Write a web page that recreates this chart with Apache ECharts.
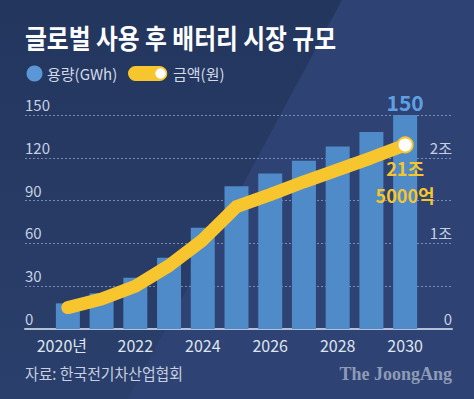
<!DOCTYPE html>
<html><head><meta charset="utf-8">
<script src="https://cdn.jsdelivr.net/npm/echarts@6/dist/echarts.min.js"></script>
<style>html,body{margin:0;padding:0;background:#2e4373;}#c{width:474px;height:399px;}</style>
</head><body><div id="c"></div>
<script>
const years = ['2020','2021','2022','2023','2024','2025','2026','2027','2028','2029','2030'];
const capacityGWh = [18, 25, 36, 50, 71, 100, 109, 118, 128, 138, 150];
const amountJo = [0.25, 0.35, 0.5, 0.74, 1.04, 1.43, 1.57, 1.72, 1.86, 2.0, 2.15];
const firstYearLabel = '2020년';
const endAmountLabel = '21조\n5000억';
const titleText = '글로벌 사용 후 배터리 시장 규모';
const legendBar = '용량(GWh)';
const legendLine = '금액(원)';
const sourceText = '자료: 한국전기차산업협회';
const brandText = 'The JoongAng';

const FONT = '"Noto Sans CJK KR", "Noto Sans", sans-serif';
const YELLOW = '#f7c62f';
const BLUE = '#4f8ac9';

const chart = echarts.init(document.getElementById('c'), null, {renderer: 'svg'});
const last = years.length - 1;

chart.setOption({
  backgroundColor: '#2e4373',
  animation: false,
  textStyle: {fontFamily: FONT},
  grid: [
    {left: 25, right: 22, top: 115, bottom: 70},
    {left: 51, right: 52, top: 115, bottom: 70}
  ],
  xAxis: [
    {gridIndex: 0, type: 'value', min: 0, max: 1,
     axisLine: {show: true, lineStyle: {color: '#b4c0d8', width: 2}},
     axisTick: {show: false}, axisLabel: {show: false}, splitLine: {show: false}},
    {gridIndex: 1, type: 'category', data: years, boundaryGap: true,
     axisLine: {show: false},
     axisTick: {show: true, inside: true, length: 5, alignWithLabel: true,
       interval: (i) => i % 2 === 0, lineStyle: {color: '#c9d3e6', width: 1}},
     axisLabel: {interval: (i) => i % 2 === 0, color: '#dfe5f0', fontSize: 16, fontWeight: 'normal', margin: 8,
       fontFamily: FONT,
       formatter: (v, i) => i === 0 ? '{a|' + firstYearLabel + '}' : v,
       rich: {a: {fontSize: 16, fontWeight: 'normal', color: '#dfe5f0', fontFamily: FONT, padding: [0, 12, 0, 0]}}}}
  ],
  yAxis: [
    {gridIndex: 0, type: 'value', min: 0, max: 150, interval: 30, position: 'left',
     axisLine: {show: false}, axisTick: {show: false},
     axisLabel: {inside: true, margin: 0, verticalAlign: 'bottom', padding: [0, 0, 3, 0],
       color: '#c6d0e3', fontSize: 15, fontWeight: 'normal', fontFamily: FONT},
     splitLine: {show: true, lineStyle: {type: [2, 2], color: 'rgba(175,190,220,0.6)', width: 1}}},
    {gridIndex: 0, type: 'value', min: 0, max: 2.5, interval: 1, position: 'right',
     axisLine: {show: false}, axisTick: {show: false}, splitLine: {show: false},
     axisLabel: {inside: true, margin: 0, verticalAlign: 'bottom', padding: [0, 0, 3, 0],
       color: '#c6d0e3', fontSize: 15, fontWeight: 'normal', fontFamily: FONT,
       formatter: (v) => Number.isInteger(v) ? (v === 0 ? '0' : v + '조') : ''}},
    {gridIndex: 1, type: 'value', min: 0, max: 150, show: false},
    {gridIndex: 1, type: 'value', min: 0, max: 2.5, show: false}
  ],
  series: [
    {type: 'bar', xAxisIndex: 1, yAxisIndex: 2, barWidth: 24, z: 2,
     itemStyle: {color: BLUE},
     data: capacityGWh.map((v, i) => i === last ? {value: v,
       label: {show: true, position: 'top', distance: 3, color: '#5ea0e2',
         fontSize: 21, fontWeight: 'bold', fontFamily: FONT}} : v)},
    {type: 'line', xAxisIndex: 1, yAxisIndex: 3, z: 5, smooth: false,
     showSymbol: true, symbol: 'none',
     lineStyle: {color: YELLOW, width: 13, cap: 'round', join: 'round'},
     itemStyle: {color: YELLOW},
     data: amountJo.map((v, i) => i === last ? {value: v, symbol: 'circle', symbolSize: 15,
       itemStyle: {color: '#ffffff', borderColor: YELLOW, borderWidth: 2},
       label: {show: true, position: 'bottom', distance: 1, formatter: endAmountLabel,
         color: '#f5c62c', fontSize: 18, fontWeight: 'bold', lineHeight: 27, fontFamily: FONT}} : v)}
  ],
  graphic: [
    {type: 'polygon', z: -100, silent: true,
     shape: {points: [[0, 0], [342, 0], [128, 399], [0, 399]]},
     style: {fill: new echarts.graphic.LinearGradient(0, 0, 0, 1, [
       {offset: 0, color: '#23365e'}, {offset: 1, color: '#2a3f6b'}])}},
    {type: 'text', x: 25, y: 24, scaleX: 0.88, z: 10,
     style: {text: titleText, fill: '#ffffff', font: 'bold 27px ' + FONT, verticalAlign: 'top'}},
    {type: 'circle', z: 10, shape: {cx: 34.5, cy: 73.5, r: 8}, style: {fill: '#5b96d6'}},
    {type: 'text', x: 47, y: 73.5, z: 10,
     style: {text: legendBar, fill: '#d3dae8', font: '15px ' + FONT, verticalAlign: 'middle'}},
    {type: 'rect', z: 10, shape: {x: 128, y: 66, width: 39, height: 15, r: 7.5}, style: {fill: YELLOW}},
    {type: 'circle', z: 11, shape: {cx: 160.5, cy: 73.5, r: 6}, style: {fill: '#ffffff', stroke: YELLOW, lineWidth: 1.5}},
    {type: 'text', x: 173, y: 73.5, z: 10,
     style: {text: legendLine, fill: '#d3dae8', font: '15px ' + FONT, verticalAlign: 'middle'}},
    {type: 'text', x: 25, y: 373, scaleX: 0.93, z: 10,
     style: {text: sourceText, fill: '#c7cfe0', font: '16px ' + FONT, verticalAlign: 'middle'}},
    {type: 'text', x: 452, y: 374, z: 10,
     style: {text: brandText, fill: '#8f9bb6', font: 'bold 18px "Liberation Serif", serif', align: 'right', verticalAlign: 'middle'}}
  ]
});
</script>
</body></html>
